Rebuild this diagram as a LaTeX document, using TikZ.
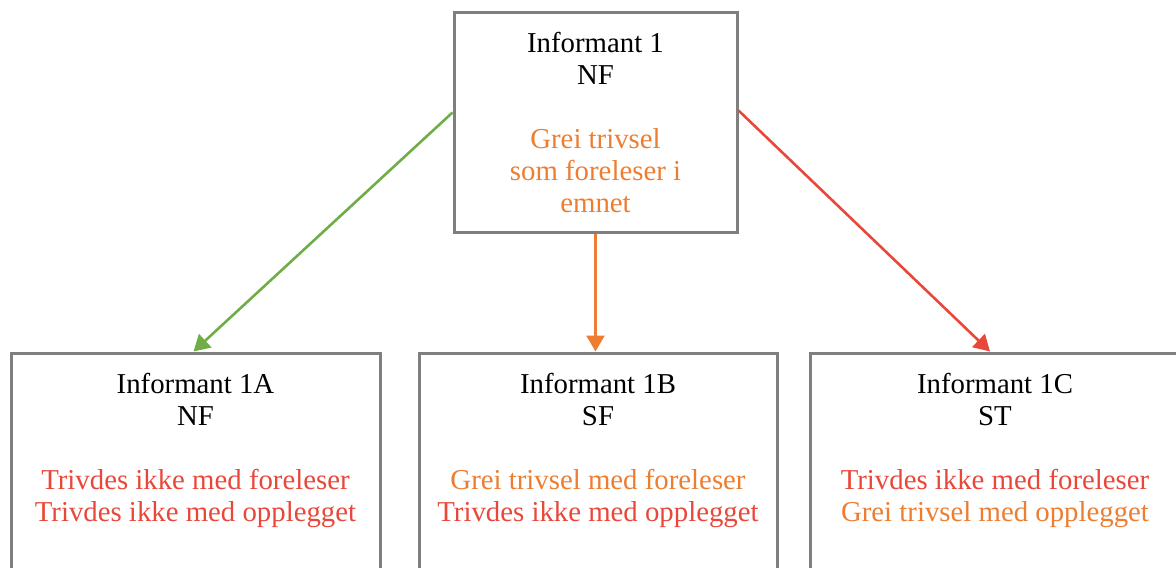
\documentclass[tikz,border=0pt]{standalone}
\usepackage{fontspec}
\setmainfont{Liberation Serif}
\usetikzlibrary{arrows.meta}

\definecolor{boxgray}{HTML}{7F7F7F}
\definecolor{okorange}{HTML}{ED7D31}
\definecolor{badred}{HTML}{E9473A}
\definecolor{goodgreen}{HTML}{70AD47}

\begin{document}
\begin{tikzpicture}[x=0.5pt, y=-0.5pt,
        infobox/.style={draw=boxgray, line width=1.5pt, inner sep=0pt, align=center,
            minimum height=110pt, font=\fontsize{14.4}{16}\selectfont},
        link/.style={line width=1.3pt, -{Triangle[width=9pt, length=8pt]}}]
        % Canvas
        \clip (0,0) rectangle (1176,567);

        % Define nodes
        \node[infobox, minimum width=141.5pt] (inf1) at (595.5,122.5)
            {Informant 1\\NF\\[16pt]\textcolor{okorange}{Grei trivsel}\\
             \textcolor{okorange}{som foreleser i}\\\textcolor{okorange}{emnet}};

        \node[infobox, minimum width=184.5pt, minimum height=115pt] (inf1a) at (195.5,468)
            {Informant 1A\\NF\\[16pt]\textcolor{badred}{Trivdes ikke med foreleser}\\
             \textcolor{badred}{Trivdes ikke med opplegget}\\\strut};
        \node[infobox, minimum width=179pt, minimum height=115pt] (inf1b) at (598,468)
            {Informant 1B\\SF\\[16pt]\textcolor{okorange}{Grei trivsel med foreleser}\\
             \textcolor{badred}{Trivdes ikke med opplegget}\\\strut};
        \node[infobox, minimum width=185pt, minimum height=115pt] (inf1c) at (995,468)
            {Informant 1C\\ST\\[16pt]\textcolor{badred}{Trivdes ikke med foreleser}\\
             \textcolor{okorange}{Grei trivsel med opplegget}\\\strut};

        % Draw mappings
        \draw[link, goodgreen] ([yshift=5pt]inf1.west) -- ([xshift=-1pt]inf1a.north);
        \draw[link, okorange] (inf1.south) -- (inf1.south |- inf1b.north);
        \draw[link, badred] ([yshift=6pt]inf1.east) -- ([xshift=-2.5pt]inf1c.north);
    \end{tikzpicture}
\end{document}
